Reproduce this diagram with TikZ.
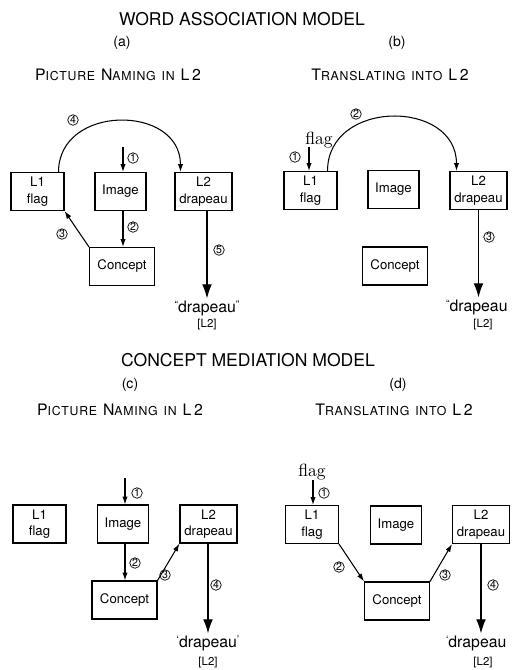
\documentclass[tikz,border=0pt]{standalone}
\usepackage{fontspec}
\setsansfont{TeX Gyre Heros}
\renewcommand{\familydefault}{\sfdefault}
\usetikzlibrary{arrows.meta,calc}

% small caps made by hand: first letter large, rest small
\newcommand{\capword}[2]{{\fontsize{9}{10}\selectfont #1}{\fontsize{7}{8}\selectfont #2}}
% small quote marks round the output word
\newcommand{\qmark}[1]{\raisebox{2.2pt}{\fontsize{6}{6}\selectfont #1}}

\begin{document}
\begin{tikzpicture}[
  x=0.02cm, y=-0.02cm,
  heading/.style={font=\fontsize{10}{12}\selectfont, inner sep=0pt},
  panel/.style={font=\fontsize{8}{9}\selectfont, inner sep=0pt},
  task/.style={font=\addfontfeatures{LetterSpace=6}, inner sep=0pt},
  box/.style={draw, line width=0.6pt, align=center, inner sep=1pt,
              minimum height=0.76cm, font=\fontsize{7.5}{9.5}\selectfont},
  l1box/.style={box, minimum width=1.06cm},
  imgbox/.style={box, minimum width=1.02cm},
  l2box/.style={box, minimum width=1.14cm},
  conbox/.style={box, minimum width=1.3cm},
  num/.style={circle, draw, line width=0.4pt, minimum size=0.21cm, inner sep=0pt,
              font=\fontsize{6}{6}\selectfont},
  arr/.style={-{Latex[length=4.5pt,width=3pt]}, line width=0.6pt},
  outarr/.style={-{Latex[length=8pt,width=5.5pt]}, line width=0.6pt},
  word/.style={font=\fontsize{9}{11}\selectfont, inner sep=1pt},
  lang/.style={font=\fontsize{6.5}{7}\selectfont, inner sep=0pt},
  cue/.style={font=\rmfamily\fontsize{10}{11}\selectfont, inner sep=0pt},
]
\useasboundingbox (0,0) rectangle (512,670);

% ---------------- word association model ----------------
\node[heading] (wam) at (242,19) {WORD ASSOCIATION MODEL};
\node[panel] (pa) at (122,43) {(a)};
\node[panel] (pb) at (397,43) {(b)};
\node[task] (ta) at (118,75) {\capword{P}{ICTURE} \capword{N}{AMING} \capword{}{IN} \capword{L\,2}{}};
\node[task] (tb) at (390,75) {\capword{T}{RANSLATING} \capword{}{INTO} \capword{L\,2}{}};

% (a)
\node[l1box] (aL1) at (37.5,191.5) {L1\\flag};
\node[imgbox] (aImg) at (120.5,191.5) {Image};
\node[l2box] (aL2) at (203.5,191.5) {L2\\drapeau};
\node[conbox] (aCon) at (122,266.5) {Concept};
\node[word] (aOut) at (207,308) {\qmark{``}drapeau\qmark{''}};
\node[lang] (aTag) at (207,325) {[L2]};
\coordinate (a1) at (123,147);

\draw[arr] (a1) -- (a1 |- aImg.north);
\draw[arr] (aImg.south -| a1) -- (aCon.north -| a1);
\draw[arr] (aCon.north west) -- (aL1.south east);
\draw[arr] ([xshift=-0.12cm]aL1.north east) .. controls +(0,-68) and +(0,-68) .. ([xshift=0.12cm]aL2.north west);
\draw[outarr] (aL2.south -| aOut) -- (aOut.north);

\node[num] (an1) at (133,158) {1};
\node[num] (an2) at (133,227) {2};
\node[num] (an3) at (62,234) {3};
\node[num] (an4) at (73,120) {4};
\node[num] (an5) at (219,250) {5};

% (b)
\node[l1box] (bL1) at (310.5,190.5) {L1\\flag};
\node[imgbox] (bImg) at (393.5,189.5) {Image};
\node[l2box] (bL2) at (478.5,190.5) {L2\\drapeau};
\node[conbox] (bCon) at (395,266) {Concept};
\node[cue] (bCue) at (319,140) {flag};
\node[word, anchor=west] (bOut) at (444,307) {\qmark{``}drapeau};
\node[lang] (bTag) at (483,325) {[L2]};
\coordinate (b1) at (309,147);

\draw[arr] (b1) -- (b1 |- bL1.north);
\draw[arr] ([xshift=-0.2cm]bL1.north east) .. controls +(0,-72) and +(0,-72) .. ([xshift=0.14cm]bL2.north west);
\draw[outarr] (bL2.south) -- (bL2.south |- bOut.north);

\node[num] (bn1) at (295,157) {1};
\node[num] (bn2) at (356,114) {2};
\node[num] (bn3) at (489,237) {3};

% ---------------- concept mediation model ----------------
\node[heading] (cmm) at (248,360) {CONCEPT MEDIATION MODEL};
\node[panel] (pc) at (130,385) {(c)};
\node[panel] (pd) at (398,385) {(d)};
\node[task] (tc) at (120,410) {\capword{P}{ICTURE} \capword{N}{AMING} \capword{}{IN} \capword{L\,2}{}};
\node[task] (td) at (394,410) {\capword{T}{RANSLATING} \capword{}{INTO} \capword{L\,2}{}};

% (c)
\node[l1box] (cL1) at (39.5,524) {L1\\flag};
\node[imgbox] (cImg) at (123,524) {Image};
\node[l2box] (cL2) at (208.5,524) {L2\\drapeau};
\node[conbox] (cCon) at (124.5,600) {Concept};
\node[word] (cOut) at (208,643) {\qmark{`}drapeau\qmark{'}};
\node[lang] (cTag) at (208,663) {[L2]};
\coordinate (c1) at (125,478);

\draw[arr] (c1) -- (c1 |- cImg.north);
\draw[arr] (cImg.south -| c1) -- (cCon.north -| c1);
\draw[arr] (cCon.north east) -- (cL2.south west);
\draw[outarr] (cL2.south -| cOut) -- (cOut.north);

\node[num] (cn1) at (137,493) {1};
\node[num] (cn2) at (135,563) {2};
\node[num] (cn3) at (165,575) {3};
\node[num] (cn4) at (216,585) {4};

% (d)
\node[l1box] (dL1) at (312,524.5) {L1\\flag};
\node[imgbox] (dImg) at (396,525) {Image};
\node[l2box] (dL2) at (481,524.5) {L2\\drapeau};
\node[conbox] (dCon) at (397,601) {Concept};
\node[cue] (dCue) at (312,472) {flag};
\node[word, anchor=west] (dOut) at (444,643) {\qmark{`}drapeau};
\node[lang] (dTag) at (483,663) {[L2]};
\coordinate (d1) at (313,480);

\draw[arr] (d1) -- (d1 |- dL1.north);
\draw[arr] (dL1.south east) -- (dCon.north west);
\draw[arr] (dCon.north east) -- (dL2.south west);
\draw[outarr] (dL2.south) -- (dL2.south |- dOut.north);

\node[num] (dn1) at (324,493) {1};
\node[num] (dn2) at (339,567) {2};
\node[num] (dn3) at (445,575) {3};
\node[num] (dn4) at (493,585) {4};

\end{tikzpicture}
\end{document}
